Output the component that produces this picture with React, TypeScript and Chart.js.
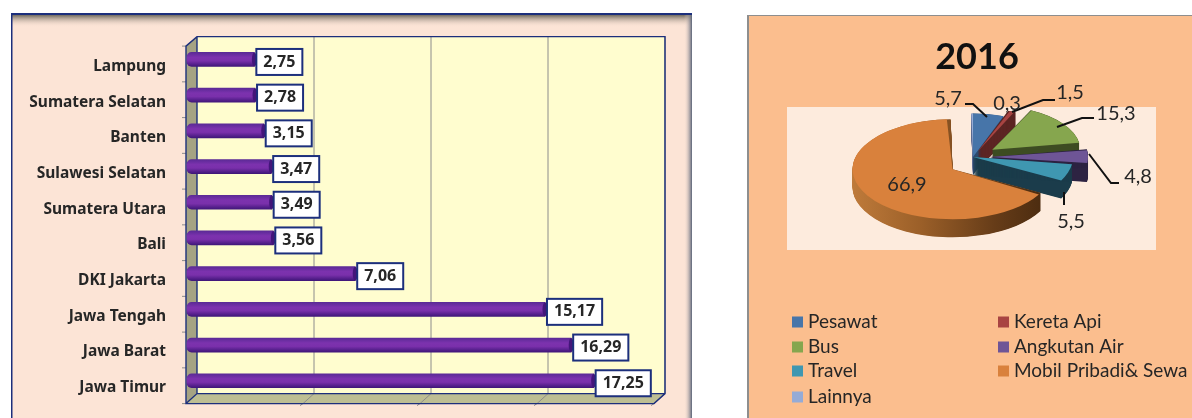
import React, { useEffect, useRef } from "react";
import { Chart, registerables } from "chart.js";

Chart.register(...registerables);

const provinces = ["Lampung", "Sumatera Selatan", "Banten", "Sulawesi Selatan", "Sumatera Utara", "Bali", "DKI Jakarta", "Jawa Tengah", "Jawa Barat", "Jawa Timur"];
const provinceValues = [2.75, 2.78, 3.15, 3.47, 3.49, 3.56, 7.06, 15.17, 16.29, 17.25];
const gridValues = [5, 10, 15, 20];

const modes = ["Pesawat", "Kereta Api", "Bus", "Angkutan Air", "Travel", "Mobil Pribadi& Sewa", "Lainnya"];
const modeValues = [5.7, 1.5, 15.3, 4.8, 5.5, 66.9, 0.3];
const modeColors = ["#4775A9", "#A84442", "#86A64E", "#6E5596", "#3F97B1", "#D9813C", "#95ABD6"];
const modeSideColors = ["#2C4A6E", "#5C2523", "#3D4C22", "#2D2342", "#1B3C4B", "#8A5224", "#5A6A90"];
const modeExplode = [0, 12, 24, 17, 0, 24, 0];
const modeRadiusScale = [0.87, 0.87, 0.88, 0.98, 1, 1, 0.87];
const modeDropY = [0, 0, 0, 0, 0, 6, 0];
const pieLabelPositions = [[948, 99], [1070, 93], [1116, 114], [1138, 177], [1071, 222], [907, 185], [1007, 104]];
const pieLeaders = [
  [[965, 104], [973, 104], [987, 117]],
  [[1055, 100], [1043, 100], [1012, 112]],
  [[1094, 118], [1082, 118], [1057, 127]],
  [[1119, 183], [1111, 183], [1089, 154]],
  [[1064, 205], [1064, 192]],
];
const legendRows = [[0, 1], [2, 3], [4, 5], [6]];
const legendRowY = [322, 347, 371, 397];
const legendColX = [792, 998];

const FONT = "Lato, 'Open Sans', sans-serif";
const BOLD_FONT = "'Noto Sans', sans-serif";
const NAVY = "#1C2F7C";
const fmt = (v: number) => String(v).replace(".", ",");

const barBackdrop = {
  id: "barBackdrop",
  beforeDraw(chart: any) {
    const { ctx, scales } = chart;
    const W = 692;
    ctx.save();
    ctx.fillStyle = "#FCE4D6";
    ctx.fillRect(11, 14, W - 11, 404);
    const top = ctx.createLinearGradient(0, 15, 0, 27);
    top.addColorStop(0, "#6F6A5F");
    top.addColorStop(1, "rgba(252,228,214,0)");
    ctx.fillStyle = top;
    ctx.fillRect(12, 15, W - 12, 12);
    const right = ctx.createLinearGradient(684, 0, W, 0);
    right.addColorStop(0, "rgba(252,228,214,0)");
    right.addColorStop(1, "#5A6478");
    ctx.fillStyle = right;
    ctx.fillRect(684, 15, 8, 403);
    ctx.fillStyle = NAVY;
    ctx.fillRect(11, 13, W - 11, 2);
    ctx.fillRect(11, 13, 1.5, 405);

    const x = scales.x;
    const y = scales.y;
    const back = 7;
    const front = -4;
    const x0 = x.getPixelForValue(0);
    const xEnd = x.getPixelForValue(20);
    const yTop = y.top;
    const yBot = y.bottom;
    const wallT = yTop - 5;
    const wallB = yBot - 5;
    const frontT = yTop + 4.5;
    const frontB = yBot + 5;

    ctx.fillStyle = "#FFFDCF";
    ctx.fillRect(x0 + back, wallT, xEnd - x0, wallB - wallT);

    ctx.fillStyle = "#A5A383";
    ctx.beginPath();
    ctx.moveTo(x0 + front, frontT);
    ctx.lineTo(x0 + back, wallT);
    ctx.lineTo(x0 + back, wallB);
    ctx.lineTo(x0 + front, frontB);
    ctx.closePath();
    ctx.fill();

    ctx.fillStyle = "#BDBE93";
    ctx.beginPath();
    ctx.moveTo(x0 + front, frontB);
    ctx.lineTo(x0 + back, wallB);
    ctx.lineTo(xEnd + back, wallB);
    ctx.lineTo(xEnd + front, frontB);
    ctx.closePath();
    ctx.fill();

    ctx.lineWidth = 1;
    ctx.strokeStyle = "#8C8C8C";
    for (const v of gridValues) {
      const px = x.getPixelForValue(v);
      ctx.beginPath();
      ctx.moveTo(px + back, wallT);
      ctx.lineTo(px + back, wallB);
      ctx.lineTo(px + front, frontB);
      ctx.lineTo(px + front - 3, frontB + 2);
      ctx.stroke();
    }
    for (let i = 0; i <= provinces.length; i++) {
      const ty = frontT + ((frontB - frontT) * i) / provinces.length;
      ctx.beginPath();
      ctx.moveTo(x0 + front, ty);
      ctx.lineTo(x0 + front - 4, ty);
      ctx.stroke();
    }

    ctx.lineWidth = 1.4;
    ctx.strokeStyle = NAVY;
    ctx.beginPath();
    ctx.moveTo(x0 + front, frontT);
    ctx.lineTo(x0 + back, wallT);
    ctx.lineTo(xEnd + back, wallT);
    ctx.lineTo(xEnd + back, wallB);
    ctx.lineTo(xEnd + front, frontB);
    ctx.lineTo(x0 + front, frontB);
    ctx.closePath();
    ctx.moveTo(x0 + front, frontB);
    ctx.lineTo(x0 + back, wallB);
    ctx.lineTo(xEnd + back, wallB);
    ctx.moveTo(x0 + back, wallT);
    ctx.lineTo(x0 + back, wallB);
    ctx.stroke();
    ctx.restore();
  },
  beforeDatasetsDraw(chart: any) {
    const { ctx } = chart;
    chart.getDatasetMeta(0).data.forEach((bar: any) => {
      const g = ctx.createLinearGradient(0, bar.y - 7, 0, bar.y + 7);
      g.addColorStop(0, "#5B2A96");
      g.addColorStop(0.35, "#7C32AE");
      g.addColorStop(0.6, "#7A30AB");
      g.addColorStop(1, "#40167A");
      bar.options.backgroundColor = g;
    });
  },
  afterDatasetsDraw(chart: any) {
    const { ctx } = chart;
    const bars = chart.getDatasetMeta(0).data;
    ctx.save();
    ctx.font = `bold 16px ${BOLD_FONT}`;
    ctx.textAlign = "center";
    ctx.textBaseline = "middle";
    bars.forEach((bar: any, i: number) => {
      const hh = bar.height / 2;
      ctx.fillStyle = "#43167A";
      ctx.beginPath();
      ctx.ellipse(bar.x, bar.y, 2.5, hh, 0, 0, Math.PI * 2);
      ctx.fill();
      const text = fmt(provinceValues[i]);
      const w = ctx.measureText(text).width + 14;
      const h = 26;
      const bx = bar.x + 2;
      const by = bar.y + 2.5 - h / 2;
      ctx.fillStyle = "#FFFFFF";
      ctx.fillRect(bx, by, w, h);
      ctx.strokeStyle = NAVY;
      ctx.lineWidth = 2;
      ctx.strokeRect(bx, by, w, h);
      ctx.fillStyle = "#262626";
      ctx.fillText(text, bx + w / 2, by + h / 2);
    });
    ctx.restore();
  },
};

const PIE_CX = 973;
const PIE_CY = 157;
const PIE_K = 0.5;
const PIE_DEPTH = 18;
const PIE_R = 100;

const pieStage = {
  id: "pieStage",
  beforeDraw(chart: any) {
    const { ctx } = chart;
    ctx.save();
    ctx.fillStyle = "#FBBE8E";
    ctx.fillRect(748, 15, 444, 403);
    ctx.fillStyle = "#8E8E8E";
    ctx.fillRect(747, 15, 2, 403);
    ctx.fillRect(747, 15, 445, 1);
    ctx.fillStyle = "#FDEBDD";
    ctx.fillRect(787, 107, 369, 143);
    ctx.restore();
  },
  beforeDatasetsDraw(chart: any) {
    const { ctx, chartArea } = chart;
    const arcs = chart.getDatasetMeta(0).data;
    const ax = (chartArea.left + chartArea.right) / 2;
    const ay = (chartArea.top + chartArea.bottom) / 2;
    ctx.save();
    ctx.translate(PIE_CX, PIE_CY);
    ctx.scale(1, PIE_K);
    ctx.translate(-ax, -ay);
    arcs.forEach((a: any, i: number) => {
      const off = (a.options.offset || 0) / 4;
      const full = PIE_R * modeRadiusScale[i];
      // Chart.js widens an exploded slice by offset * fix when it paths the arc
      const fix = 1 - Math.sin(Math.min(Math.PI, a.circumference || 0));
      a.outerRadius = full - off * fix;
      a.x = ax;
      a.y = ay + modeDropY[i] / PIE_K;
      const mid = (a.startAngle + a.endAngle) / 2;
      const cx = a.x + Math.cos(mid) * off;
      const cy = a.y + Math.sin(mid) * off;
      let fill: any = modeSideColors[i];
      if (i === 5) {
        const g = ctx.createLinearGradient(cx - PIE_R, 0, cx + PIE_R * 0.9, 0);
        g.addColorStop(0, "#BE7A3A");
        g.addColorStop(0.35, "#9C6029");
        g.addColorStop(0.75, "#663C18");
        g.addColorStop(1, "#4C2C10");
        fill = g;
      }
      ctx.fillStyle = fill;
      for (let d = 0; d <= PIE_DEPTH / PIE_K; d += 1) {
        ctx.beginPath();
        ctx.moveTo(cx, cy + d);
        ctx.arc(cx, cy + d, full, a.startAngle, a.endAngle);
        ctx.closePath();
        ctx.fill();
      }
    });
  },
  afterDatasetsDraw(chart: any) {
    const { ctx } = chart;
    ctx.restore();
    ctx.save();
    ctx.strokeStyle = "#111111";
    ctx.lineWidth = 2;
    for (const pts of pieLeaders) {
      ctx.beginPath();
      pts.forEach((p, i) => (i ? ctx.lineTo(p[0], p[1]) : ctx.moveTo(p[0], p[1])));
      ctx.stroke();
    }
    ctx.font = `20px ${FONT}`;
    ctx.fillStyle = "#262626";
    ctx.textAlign = "center";
    ctx.textBaseline = "middle";
    modeValues.forEach((v, i) => {
      ctx.fillText(fmt(v), pieLabelPositions[i][0], pieLabelPositions[i][1]);
    });
    ctx.textAlign = "left";
    ctx.font = `19px ${FONT}`;
    legendRows.forEach((row, r) => {
      row.forEach((idx, c) => {
        ctx.fillStyle = modeColors[idx];
        ctx.fillRect(legendColX[c], legendRowY[r] - 5.5, 11, 11);
        ctx.fillStyle = "#262626";
        ctx.fillText(modes[idx], legendColX[c] + 16, legendRowY[r]);
      });
    });
    ctx.restore();
  },
};

export default function App() {
  const barRef = useRef<HTMLCanvasElement>(null);
  const pieRef = useRef<HTMLCanvasElement>(null);

  useEffect(() => {
    const barChart = new Chart(barRef.current!, {
      type: "bar",
      plugins: [barBackdrop],
      data: {
        labels: provinces,
        datasets: [
          {
            data: provinceValues,
            base: -0.13,
            clip: false,
            barThickness: 14,
            borderWidth: 0,
            borderRadius: { topLeft: 5, bottomLeft: 5, topRight: 0, bottomRight: 0 },
            borderSkipped: false,
            backgroundColor: () => "#7C32AE",
          } as any,
        ],
      },
      options: {
        indexAxis: "y",
        responsive: false,
        animation: false,
        layout: { autoPadding: false, padding: { left: 0, right: 42, top: 41.6, bottom: 19.4 } },
        plugins: { legend: { display: false }, tooltip: { enabled: false }, title: { display: false } },
        scales: {
          x: { display: false, min: 0, max: 20, ticks: { display: false }, grid: { display: false, drawTicks: false }, border: { display: false } },
          y: {
            afterFit: (s: any) => {
              s.width = 190;
            },
            border: { display: false },
            grid: { display: false, drawTicks: true, tickLength: 24 },
            ticks: {
              padding: 0,
              labelOffset: 7,
              autoSkip: false,
              color: "#262626",
              font: { family: BOLD_FONT, weight: "bold", size: 15.5 },
            },
          },
        },
      } as any,
    });

    const pieChart = new Chart(pieRef.current!, {
      type: "pie",
      plugins: [pieStage],
      data: {
        labels: modes,
        datasets: [
          {
            data: modeValues,
            backgroundColor: modeColors,
            borderWidth: 0,
            offset: modeExplode.map((e) => e * 4),
            clip: false,
          } as any,
        ],
      },
      options: {
        responsive: false,
        animation: false,
        radius: PIE_R,
        layout: { padding: { left: 762, right: 0, top: 15, bottom: 0 } },
        plugins: {
          legend: { display: false },
          tooltip: { enabled: false },
          title: {
            display: true,
            text: "2016",
            color: "#111111",
            padding: { top: 21, bottom: 21 },
            font: { family: FONT, weight: "bold", size: 36 },
          },
        },
      } as any,
    });

    return () => {
      barChart.destroy();
      pieChart.destroy();
    };
  }, []);

  return (
    <div style={{ position: "fixed", inset: 0, background: "#FFFFFF", overflow: "hidden" }}>
      <canvas ref={barRef} width={700} height={418} style={{ position: "absolute", left: 0, top: 0, display: "block" }} />
      <canvas ref={pieRef} width={1192} height={418} style={{ position: "absolute", left: 0, top: 0, display: "block" }} />
    </div>
  );
}
